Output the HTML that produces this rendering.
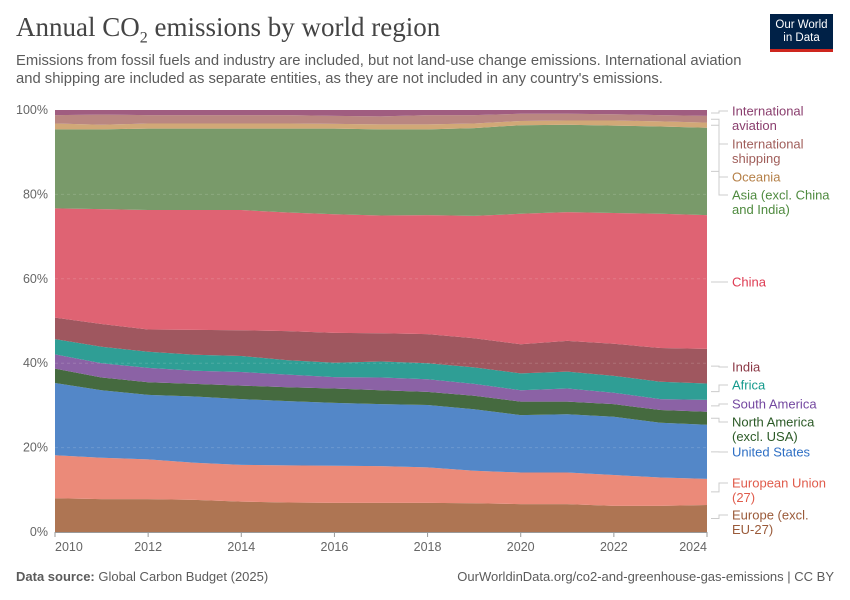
<!DOCTYPE html>
<html><head><meta charset="utf-8"><style>
body{margin:0;background:#fff;font-family:"Liberation Sans",sans-serif;}
#wrap{position:relative;width:850px;height:600px;overflow:hidden;}
.t{position:absolute;white-space:nowrap;}
</style></head><body>
<div id="wrap">
<div class="t" style="left:16px;top:12px;font-family:'Liberation Serif',serif;font-size:27px;color:#444;">Annual CO<sub style="font-size:16px">2</sub> emissions by world region</div>
<div class="t" style="left:16px;top:52px;font-size:14.8px;line-height:18px;color:#5b5b5b;">Emissions from fossil fuels and industry are included, but not land-use change emissions. International aviation<br>and shipping are included as separate entities, as they are not included in any country's emissions.</div>
<div style="position:absolute;left:770px;top:14px;width:63px;height:38px;background:#002147;border-bottom:3px solid #ce261e;box-sizing:border-box;color:#fff;font-size:11.5px;line-height:13px;text-align:center;padding-top:5px;">Our World<br>in Data</div>
<svg id="chart" width="850" height="600" style="position:absolute;left:0;top:0"></svg>
<div class="t" style="left:16px;top:569px;font-size:13px;color:#5b5b5b;"><b>Data source:</b> Global Carbon Budget (2025)</div>
<div class="t" style="right:16px;top:569px;font-size:13px;color:#5b5b5b;">OurWorldinData.org/co2-and-greenhouse-gas-emissions | CC BY</div>
</div>
<script>
const years=[2010,2011,2012,2013,2014,2015,2016,2017,2018,2019,2020,2021,2022,2023,2024];
const europe=[8.0,7.8,7.8,7.6,7.2,7.0,6.9,6.9,6.9,6.8,6.6,6.6,6.2,6.2,6.4];
const eu27=[10.2,9.8,9.4,8.8,8.7,8.8,8.8,8.7,8.4,7.7,7.5,7.5,7.3,6.7,6.2];
const usa=[17.1,16.0,15.3,15.7,15.6,15.2,14.9,14.7,14.8,14.6,13.6,13.8,13.8,13.0,12.8];
const northAmerica=[3.4,3.0,3.0,3.0,3.2,3.3,3.4,3.3,3.1,3.2,3.2,3.0,3.0,3.0,3.1];
const southAmerica=[3.4,3.4,3.4,3.1,3.2,3.0,2.7,3.0,3.0,2.8,2.7,3.1,2.7,2.6,2.8];
const africa=[3.6,3.9,3.8,3.8,3.8,3.4,3.4,3.8,3.8,3.9,4.0,4.0,4.0,4.1,3.9];
const india=[5.1,5.4,5.3,5.9,6.1,6.9,7.1,6.7,6.9,6.9,6.9,7.3,7.6,8.0,8.2];
const china=[25.9,27.2,28.3,28.4,28.5,28.1,28.1,27.9,28.2,29.0,30.9,30.5,31.0,31.8,31.7];
const asia=[18.7,18.9,19.3,19.3,19.3,19.9,20.3,20.4,20.3,20.8,21.0,20.7,20.7,20.7,20.7];
const oceania=[1.4,1.1,1.2,1.2,1.2,1.2,1.1,1.2,1.2,1.1,1.0,1.0,1.2,1.2,1.2];
const shipping=[2.0,2.4,2.0,2.0,2.0,2.0,1.9,1.9,2.2,2.0,1.7,1.6,1.5,1.5,1.6];
const aviation=[1.2,1.1,1.2,1.2,1.2,1.2,1.4,1.5,1.2,1.2,0.9,0.9,1.0,1.2,1.4];
const seriesNames=["Europe (excl. EU-27)","European Union (27)","United States","North America (excl. USA)","South America","Africa","India","China","Asia (excl. China and India)","Oceania","International shipping","International aviation"];
const yTicks=[0,20,40,60,80,100];
const xTicks=[2010,2012,2014,2016,2018,2020,2022,2024];

const series=[europe,eu27,usa,northAmerica,southAmerica,africa,india,china,asia,oceania,shipping,aviation];
const fills=["#ae7553","#eb8a79","#5387c8","#456a3f","#8b62a5","#2f9e95","#9f575f","#df6373","#799a6a","#d1a877","#ba8781","#a05d80"];
const txtCol=["#9a5a39","#e05b4b","#2e6fc4","#2b5a26","#7448a0","#159a8d","#8b3845","#de3b52","#4e8a3e","#b58048","#a05e5a","#8a3e6e"];
const labLines=[["Europe (excl.","EU-27)"],["European Union","(27)"],["United States"],["North America","(excl. USA)"],["South America"],["Africa"],["India"],["China"],["Asia (excl. China","and India)"],["Oceania"],["International","shipping"],["International","aviation"]];
const labY=[515,483,452,422,404,385,367,282,195,177,144,111];

const X0=55,X1=707,Y0=532,Y1=110;
const xs=y=>X0+(y-years[0])/(years[years.length-1]-years[0])*(X1-X0);
const ys=v=>Y0-v/100*(Y0-Y1);
const svg=document.getElementById('chart');
const NS="http://www.w3.org/2000/svg";
function mk(t,a){const e=document.createElementNS(NS,t);for(const k in a)e.setAttribute(k,a[k]);svg.appendChild(e);return e;}

const totals=years.map((_,i)=>series.reduce((s,a)=>s+a[i],0));
let base=years.map(()=>0);
const mids=[];
series.forEach((arr,si)=>{
  const top=base.map((b,i)=>b+arr[i]/totals[i]*100);
  let d="M"+years.map((y,i)=>xs(y)+","+ys(top[i])).join("L");
  for(let i=years.length-1;i>=0;i--)d+="L"+xs(years[i])+","+ys(base[i]);
  const p=mk('path',{d:d+"Z",fill:fills[si]});
  
  
  const n=years.length-1;
  mids.push(ys((base[n]+top[n])/2));
  base=top;
});
yTicks.forEach(t=>{
  if(t>0&&t<100){const g=mk('line',{x1:X0,x2:X1,y1:ys(t),y2:ys(t),stroke:"#fff","stroke-opacity":"0.15","stroke-dasharray":"3,3"});
  
  }
  const tx=mk('text',{x:48,y:ys(t)+4,"text-anchor":"end","font-size":"12.5",fill:"#666","font-family":"Liberation Sans, sans-serif"});
  tx.textContent=t+"%";
  
  
});
const ax=mk('line',{x1:X0,x2:X1,y1:Y0+0.5,y2:Y0+0.5,stroke:"#999"});


xTicks.forEach((t,i)=>{
  const tk=mk('line',{x1:xs(t),x2:xs(t),y1:Y0,y2:Y0+5,stroke:"#999"});
  
  
  const anchor=i==0?"start":(i==xTicks.length-1?"end":"middle");
  const tx=mk('text',{x:xs(t),y:Y0+19,"text-anchor":anchor,"font-size":"12.5",fill:"#666","font-family":"Liberation Sans, sans-serif"});
  tx.textContent=t;
  
  
});
labLines.forEach((lines,si)=>{
  const ly=labY[si];
  const ln=mk('polyline',{points:`${X1+4},${mids[si]} ${X1+12},${mids[si]} ${X1+12},${ly} ${X1+21},${ly}`,fill:"none",stroke:"#ccc","stroke-width":"1"});
  
  
  const tx=mk('text',{x:732,y:ly+4.5,"font-size":"13",fill:txtCol[si],"font-family":"Liberation Sans, sans-serif"});
  lines.forEach((l,j)=>{const s=document.createElementNS(NS,'tspan');s.setAttribute('x',732);s.setAttribute('dy',j?14.5:0);s.textContent=l;tx.appendChild(s);});
  
  
});
</script>
</body></html>
